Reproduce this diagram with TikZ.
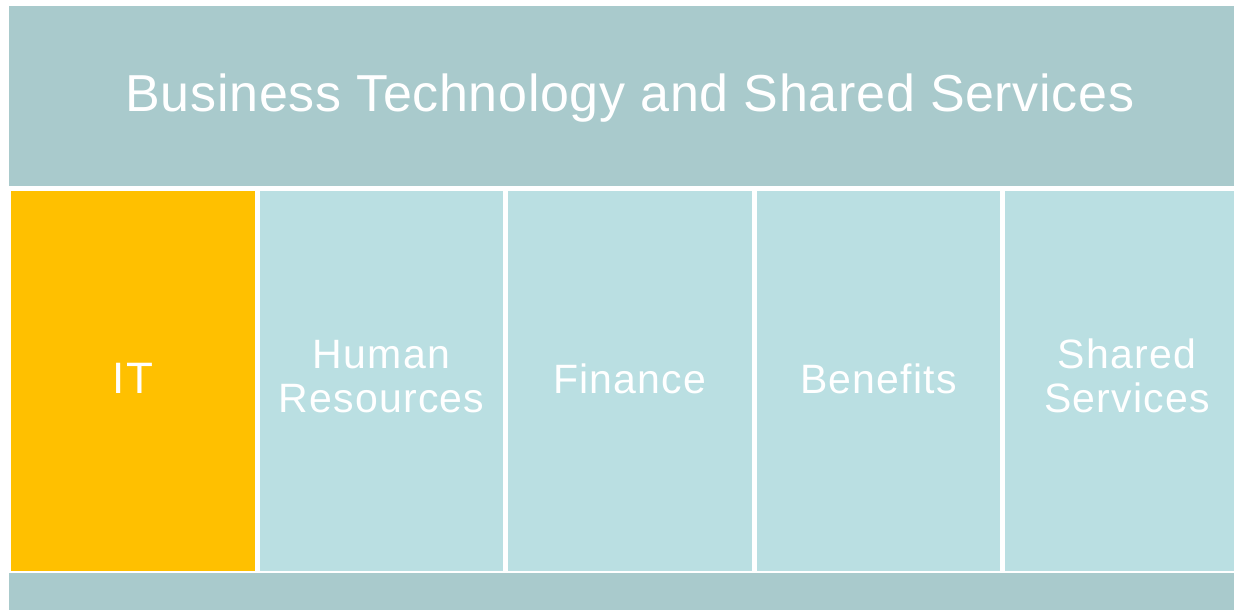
\documentclass[tikz,border=0pt]{standalone}
\usepackage{fontspec}
\setmainfont{Liberation Sans}
\newfontfamily\panefont[LetterSpace=3]{Liberation Sans}
\newfontfamily\titlefont[LetterSpace=1.3]{Liberation Sans}
\definecolor{bannerteal}{HTML}{A9CACC}
\definecolor{paneteal}{HTML}{BADFE2}
\definecolor{itgold}{HTML}{FFC000}
\tikzset{
  banner/.style={fill=bannerteal, draw=none, inner sep=0pt, anchor=north west},
  pane/.style={fill=paneteal, draw=none, inner sep=0pt, anchor=north west,
    minimum width=243.5pt, minimum height=380pt},
  panetext/.style={text=white, align=center, inner sep=0pt, text depth=0pt,
    anchor=south, font=\panefont\fontsize{41}{44}\selectfont},
}
\begin{document}
\begin{tikzpicture}[x=1pt, y=-1pt]
  \fill[white] (0,0) rectangle (1234,610);
  \useasboundingbox (0,0) rectangle (1234,610);
  \clip (0,0) rectangle (1234,610);

  % header band and footer strip
  \node[banner, minimum width=1243pt, minimum height=180pt] (head) at (9,6) {};
  \node[text=white, inner sep=0pt, text depth=0pt, anchor=south,
    font=\titlefont\fontsize{52}{56}\selectfont]
    (title) at (630,112) {Business Technology and Shared Services};
  \node[banner, minimum width=1243pt, minimum height=40pt] (foot) at (9,572.5) {};

  % five department panels
  \node[pane, fill=itgold] (it) at (11,190.5) {};
  \node[pane] (hr)  at (259.5,190.5) {};
  \node[pane] (fin) at (508,190.5) {};
  \node[pane] (ben) at (756.5,190.5) {};
  \node[pane] (ss)  at (1005,190.5) {};

  % panel labels, placed on their last baseline
  \node[panetext, font=\panefont\fontsize{44}{48}\selectfont] (itt) at (it.center |- 0,394) {IT};
  \node[panetext] (hrt)  at (hr.center |- 0,413)  {Human\\Resources};
  \node[panetext] (fint) at (fin.center |- 0,394) {Finance};
  \node[panetext] (bent) at (ben.center |- 0,394) {Benefits};
  \node[panetext] (sst)  at (ss.center |- 0,413)  {Shared\\Services};
\end{tikzpicture}
\end{document}
